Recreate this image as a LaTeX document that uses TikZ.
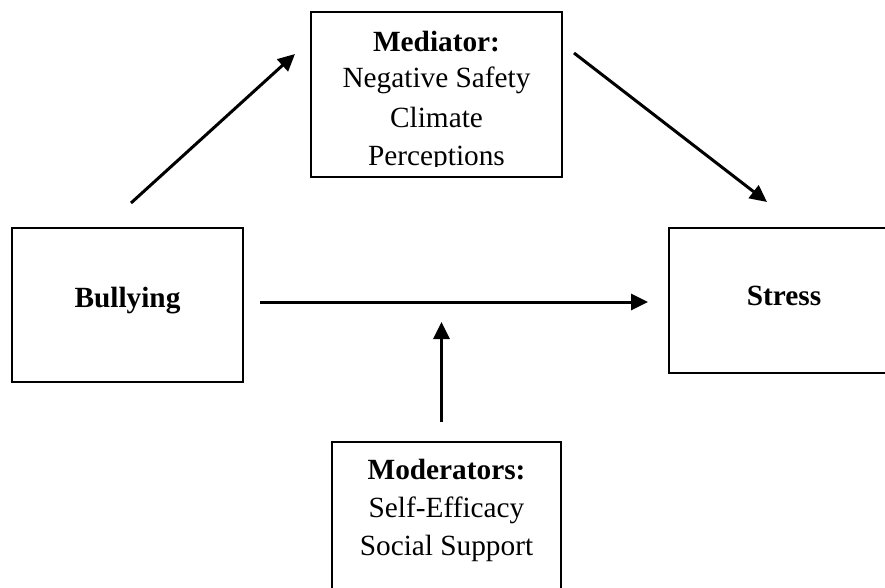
\documentclass[tikz,border=0pt]{standalone}
\usepackage{fontspec}
\setmainfont{Liberation Serif}
\usetikzlibrary{arrows.meta}
\begin{document}
\begin{tikzpicture}[x=1pt,y=-1pt,
  boxline/.style={draw=black,line width=2pt},
  lbl/.style={anchor=base,inner sep=0pt,font=\fontsize{29.3}{38}\selectfont},
  blbl/.style={lbl,font=\fontsize{29.3}{38}\selectfont\bfseries},
  conn/.style={line width=3pt,-{Triangle[length=17pt,width=16pt]}}]
\useasboundingbox (0,0) rectangle (885,588);
% boxes
\node[boxline,minimum width=251pt,minimum height=165pt,inner sep=0pt] (med) at (436.5,94.5) {};
\node[boxline,minimum width=231pt,minimum height=154pt,inner sep=0pt] (bul) at (127.5,305) {};
\node[boxline,minimum width=240pt,minimum height=145pt,inner sep=0pt] (str) at (789,300.5) {};
\node[boxline,minimum width=229pt,minimum height=180pt,inner sep=0pt] (mod) at (446.5,532) {};
% texts
\node[blbl] (medt) at (436.5,52) {Mediator:};
\node[lbl] (medt2) at (436.5,88) {Negative Safety};
\node[lbl] (medt3) at (436.5,128) {Climate};
\begin{scope}
\clip (311,12) rectangle (562,167);
\node[lbl] (medt4) at (436.5,166) {Perceptions};
\end{scope}
\node[blbl] (bult) at (127.5,307) {Bullying};
\node[blbl] (strt) at (784,305) {Stress};
\node[blbl] (modt) at (446.5,479) {Moderators:};
\node[lbl] (modt2) at (446.5,517) {Self-Efficacy};
\node[lbl] (modt3) at (446.5,555) {Social Support};
% connector ends
\coordinate (a1) at (131,203);
\coordinate (a2) at (295,54);
\coordinate (b1) at (574,53);
\coordinate (b2) at (767,202);
\coordinate (c1) at (260,302);
\coordinate (c2) at (648,302);
\coordinate (d1) at (441.5,422);
\coordinate (d2) at (441.5,322);
\draw[conn] (a1) -- (a2);
\draw[conn] (b1) -- (b2);
\draw[conn] (c1) -- (c2);
\draw[conn] (d1) -- (d2);
\end{tikzpicture}
\end{document}
